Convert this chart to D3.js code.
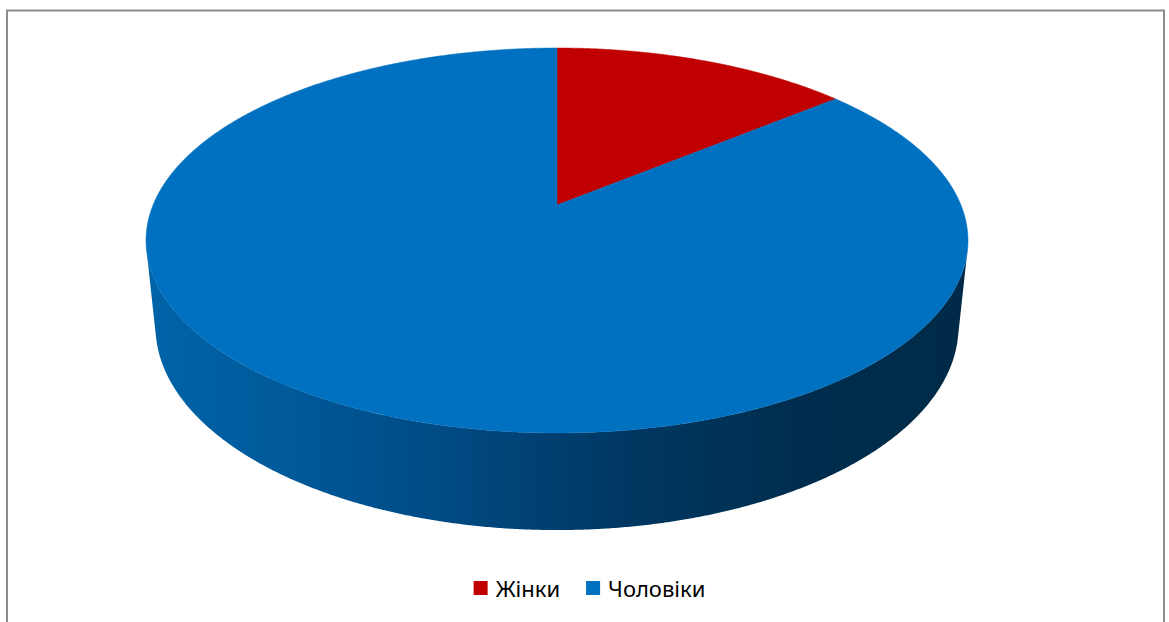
<!DOCTYPE html>
<html>
<head>
<meta charset="utf-8">
<script src="https://cdn.jsdelivr.net/npm/d3@7/dist/d3.min.js"></script>
<style>
  html, body { margin: 0; padding: 0; background: #fff; }
  svg { display: block; }
</style>
</head>
<body>
<svg id="chart" width="1169" height="622"></svg>
<script>
const categories = ["Жінки", "Чоловіки"];
const values = [14, 86];
const sliceColors = ["#c00000", "#0070c0"];

const svg = d3.select("#chart");

// chart-area border
svg.append("rect")
  .attr("x", 7).attr("y", 10.5)
  .attr("width", 1157).attr("height", 700)
  .attr("fill", "#fff")
  .attr("stroke", "#8c8c8c").attr("stroke-width", 2);

// 3D perspective camera for the pie
const cam = { cx: 557, cy: 205, F: 1958, fx: 0.995, d: 4.823, alpha: 27.26 * Math.PI / 180, depth: 0.24 };
const ca = Math.cos(cam.alpha), sa = Math.sin(cam.alpha);
function project(a, r, z) {
  const X = Math.sin(a) * r, Y = Math.cos(a) * r, Z = z;
  const dep = Y * ca + cam.d - Z * sa;
  const sy = Y * sa + Z * ca;
  return [cam.cx + cam.F * cam.fx * X / dep, cam.cy - cam.F * sy / dep];
}
function samples(a0, a1) {
  const n = Math.max(2, Math.ceil(Math.abs(a1 - a0) / 0.005));
  return d3.range(n + 1).map(i => a0 + (a1 - a0) * i / n);
}

const pie = d3.pie().sort(null).value(d => d.value);
const arcs = pie(categories.map((c, i) => ({ name: c, value: values[i], color: sliceColors[i] })));

// gradient for the side wall
const defs = svg.append("defs");
const grad = defs.append("linearGradient").attr("id", "sideGrad")
  .attr("gradientUnits", "userSpaceOnUse")
  .attr("x1", 146).attr("x2", 968).attr("y1", 0).attr("y2", 0);
[[0, "#0064a8"], [0.187, "#005898"], [0.37, "#004a82"], [0.49, "#003f6f"],
 [0.613, "#00365f"], [0.796, "#002d4e"], [1, "#002a47"]]
  .forEach(([o, c]) => grad.append("stop").attr("offset", o).attr("stop-color", c));

const line = d3.line();

// visible wall range
const vis0 = Math.acos(-1 / (cam.d * ca)), vis1 = 2 * Math.PI - vis0;
const g = svg.append("g");
arcs.forEach(a => {
  const s = Math.max(a.startAngle, vis0), e = Math.min(a.endAngle, vis1);
  if (e <= s) return;
  const top = samples(s, e).map(t => project(t, 1, 0));
  const bot = samples(e, s).map(t => project(t, 1, -cam.depth));
  g.append("path")
    .attr("d", line(top.concat(bot)) + "Z")
    .attr("fill", "url(#sideGrad)");
});

// top faces
arcs.forEach(a => {
  const pts = [project(0, 0, 0)].concat(samples(a.startAngle, a.endAngle).map(t => project(t, 1, 0)));
  g.append("path")
    .attr("d", line(pts) + "Z")
    .attr("fill", a.data.color)
    .attr("stroke", a.data.color).attr("stroke-width", 0.5);
});

// legend
const legend = svg.append("g").attr("font-family", "'Noto Sans', sans-serif").attr("font-size", 22);
const items = legend.selectAll("g").data(arcs.map(a => a.data)).join("g");
items.append("rect").attr("width", 14).attr("height", 14).attr("y", 581).attr("fill", d => d.color);
items.append("text").text(d => d.name).attr("y", 596.5).attr("fill", "#000");
let widths = [];
items.each(function () { widths.push(d3.select(this).select("text").node().getComputedTextLength()); });
const gap = 26, sw = 14, pad = 8;
const total = d3.sum(widths.map(w => sw + pad + w)) + gap * (widths.length - 1);
let x = 589.5 - total / 2;
items.each(function (d, i) {
  const sel = d3.select(this);
  sel.select("rect").attr("x", x);
  sel.select("text").attr("x", x + sw + pad);
  x += sw + pad + widths[i] + gap;
});
</script>
</body>
</html>
